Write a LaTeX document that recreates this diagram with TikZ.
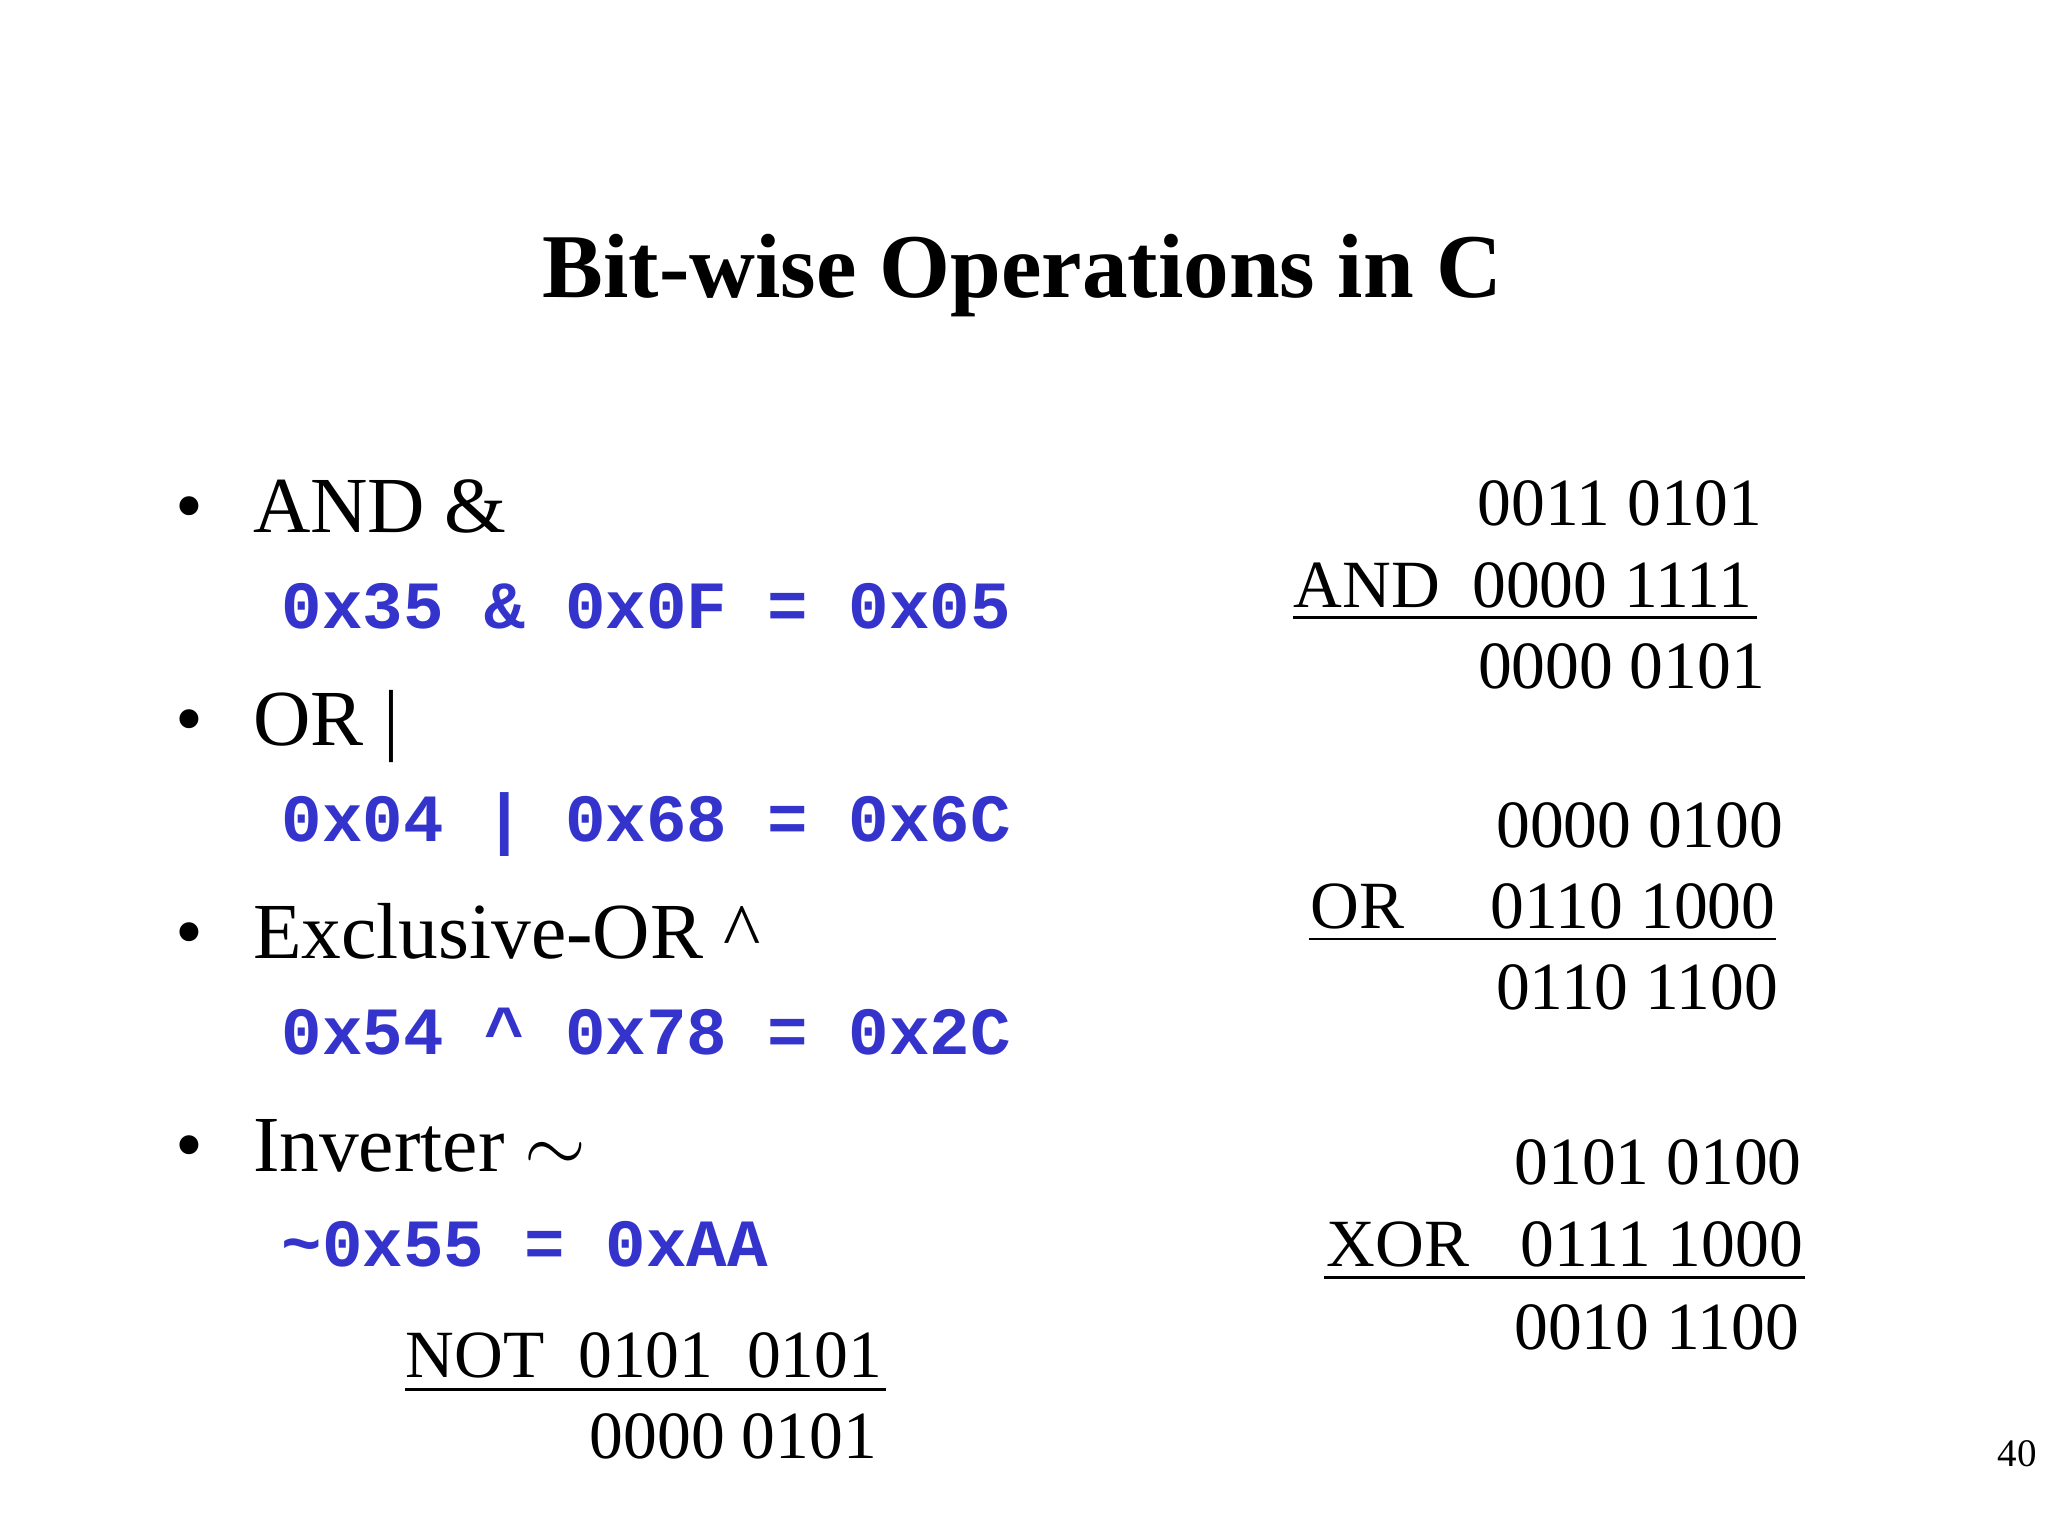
\documentclass[tikz,border=0pt]{standalone}
\usepackage{fontspec}
\setmainfont{Liberation Serif}
\newfontfamily\codefont{Liberation Mono}
\definecolor{codeblue}{HTML}{3434CC}
\tikzset{
  body/.style={anchor=base west,inner sep=0pt,font=\fontsize{17.3}{21}\selectfont},
  code/.style={anchor=base west,inner sep=0pt,text=codeblue,font=\codefont\bfseries\fontsize{14.7}{18}\selectfont},
  num/.style={inner sep=0pt,font=\fontsize{14.7}{18}\selectfont},
  bul/.style={anchor=base,inner sep=0pt,font=\fontsize{17.3}{21}\selectfont},
  rule/.style={line width=0.6pt}
}
\begin{document}
\begin{tikzpicture}[x=0.01cm,y=-0.01cm]
\useasboundingbox[fill=white] (0,0) rectangle (1568,1176);
\node[anchor=base,inner sep=0pt,font=\bfseries\fontsize{19.85}{24}\selectfont] (title) at (783,228) {Bit-wise Operations in C};
% bullets
\node[bul] (b1) at (145,408) {•}; \node[body] (t1) at (193,408) {AND \&};
\node[code] (c1) at (215,481) {0x35 \& 0x0F = 0x05};
\node[bul] (b2) at (145,571) {•}; \node[body] (t2) at (193,571) {OR |};
\node[code] (c2) at (215,644) {0x04 | 0x68 = 0x6C};
\node[bul] (b3) at (145,734) {•}; \node[body] (t3) at (193,734) {Exclusive-OR \textasciicircum};
\node[code] (c3) at (215,807) {0x54 \^{} 0x78 = 0x2C};
\node[bul] (b4) at (145,897) {•}; \node[body] (t4) at (193,897) {Inverter $\sim$};
\node[code] (c4) at (215,970) {\char`\~0x55 = 0xAA};
% NOT block
\node[num,anchor=base west] (n1) at (310,1055) {NOT\ \ 0101\ \ 0101};
\draw[rule] (310,1064) coordinate (nl) -- (678,1064) coordinate (nr);
\node[num,anchor=base east] (n2) at (672,1117) {0000 0101};
% AND block
\node[num,anchor=base east] (a1) at (1350,402) {0011 0101};
\node[num,anchor=base west] (a2l) at (990,465) {AND};
\node[num,anchor=base east] (a2) at (1342,465) {0000 1111};
\draw[rule] (990,473) coordinate (al) -- (1345,473) coordinate (ar);
\node[num,anchor=base east] (a3) at (1352,527) {0000 0101};
% OR block
\node[num,anchor=base east] (o1) at (1366,649) {0000 0100};
\node[num,anchor=base west] (o2l) at (1003,711) {OR};
\node[num,anchor=base east] (o2) at (1360,711) {0110 1000};
\draw[rule] (1002,719) coordinate (ol) -- (1360,719) coordinate (or);
\node[num,anchor=base east] (o3) at (1362,773) {0110 1100};
% XOR block
\node[num,anchor=base east] (x1) at (1380,907) {0101 0100};
\node[num,anchor=base west] (x2l) at (1015,970) {XOR};
\node[num,anchor=base east] (x2) at (1381,970) {0111 1000};
\draw[rule] (1014,978) coordinate (xl) -- (1382,978) coordinate (xr);
\node[num,anchor=base east] (x3) at (1378,1033) {0010 1100};
\node[anchor=base east,inner sep=0pt,font=\fontsize{8.5}{10}\selectfont] (pg) at (1560,1123) {40};
\end{tikzpicture}
\end{document}
